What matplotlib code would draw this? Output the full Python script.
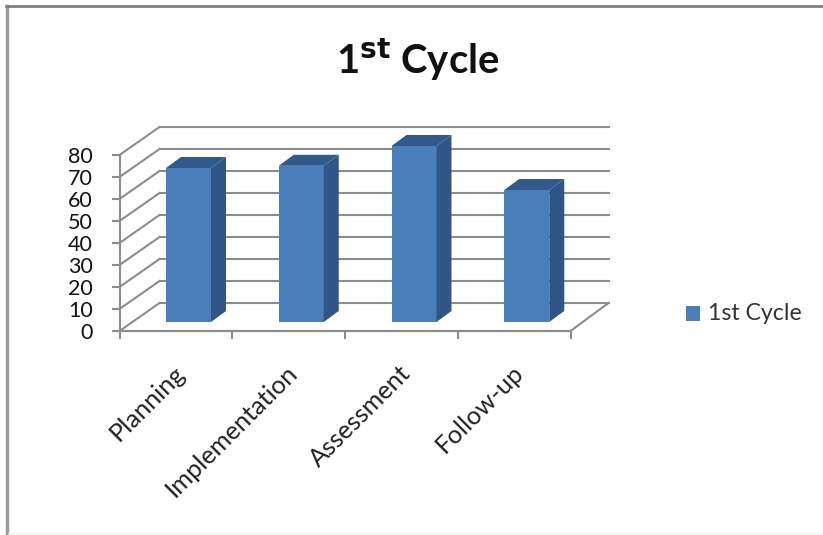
import matplotlib
matplotlib.use("Agg")
import matplotlib.pyplot as plt
from matplotlib.patches import Polygon, Rectangle
from matplotlib.lines import Line2D

categories = ["Planning", "Implementation", "Assessment", "Follow-up"]
values = [70, 71, 80, 60]
series_name = "1st Cycle"
yticks = [0, 10, 20, 30, 40, 50, 60, 70, 80]

W, H = 823, 535
plt.rcParams["font.family"] = ["Lato", "DejaVu Sans"]
fig = plt.figure(figsize=(W / 100, H / 100), dpi=100, facecolor="white")

# front plane of the 3D box in pixels
L, R, Y0, Y80 = 119.5, 570.5, 331, 155
ax = fig.add_axes([L / W, 1 - Y0 / H, (R - L) / W, (Y0 - Y80) / H])
ax.set_xlim(0, 4)
ax.set_ylim(0, 80)
ax.patch.set_visible(False)

px = 4 / (R - L)          # data x per pixel
py = 80 / (Y0 - Y80)      # data y per pixel
depth_x, depth_y = 40 * px, 28 * py
GRID = "#8c8c8c"

# walls and gridlines
for v in yticks:
    ax.plot([0, depth_x], [v, v + depth_y], color=GRID, lw=1.5, clip_on=False, zorder=1)
    ax.plot([depth_x, 4 + depth_x - 2 * px], [v + depth_y, v + depth_y], color=GRID, lw=1.5, clip_on=False, zorder=1)
ax.plot([0, 4], [0, 0], color=GRID, lw=1.5, clip_on=False, zorder=1)
ax.plot([4, 4 + depth_x - 2 * px], [0, depth_y], color=GRID, lw=1.5, clip_on=False, zorder=1)

# bars
FRONT, SIDE, TOP = "#4a7ebb", "#2f5686", "#31598c"
base = 9 * py
bar_w = 45 * px
bar_left = 46.5 * px
dx, dy = 15 * px, 11 * py
xs = [i + bar_left + bar_w / 2 for i in range(len(values))]
ax.bar(xs, values, width=bar_w, bottom=base, color=FRONT, zorder=3, clip_on=False, linewidth=0)
for x, v in zip(xs, values):
    x0, x1 = x - bar_w / 2, x + bar_w / 2
    t = base + v
    ax.add_patch(Polygon([(x1, base), (x1 + dx, base + dy), (x1 + dx, t + dy), (x1, t)],
                         facecolor=SIDE, edgecolor="none", zorder=3, clip_on=False))
    ax.add_patch(Polygon([(x0, t), (x0 + dx, t + dy), (x1 + dx, t + dy), (x1, t)],
                         facecolor=TOP, edgecolor="none", zorder=3, clip_on=False))

# axes
for s in ("top", "right"):
    ax.spines[s].set_visible(False)
for s in ("left", "bottom"):
    ax.spines[s].set_color(GRID)
    ax.spines[s].set_linewidth(1.5)
ax.set_yticks(yticks)
ax.set_xticks(range(len(categories) + 1))
ax.set_xticklabels([])
ax.tick_params(axis="both", color=GRID, width=1.5, length=6, direction="out")
ax.tick_params(axis="y", labelsize=15.5, pad=13, labelcolor="#111111")

# category labels, rotated with their ends under the group centres
for i, c in enumerate(categories):
    ax.annotate(c, xy=(i + 0.5, 0), xycoords="data", xytext=(-3, -30), textcoords="offset pixels",
                rotation=45, rotation_mode="anchor", ha="right", va="top",
                fontsize=18.3, color="#222222", annotation_clip=False)

# title
fig.text(418 / W, 1 - 60 / H, "1$^{\\mathbf{st}}$ Cycle", ha="center", va="center",
         fontsize=28.8, fontweight="bold", color="#111111",
         math_fontfamily="dejavusans")

# legend
fig.add_artist(Rectangle((686 / W, 1 - 321 / H), 14 / W, 15 / H, transform=fig.transFigure,
                         facecolor=FRONT, edgecolor="none"))
fig.text(708 / W, 1 - 313 / H, series_name, ha="left", va="center", fontsize=16.7, color="#333333")

# frame of the chart area
BORDER = "#9a9a9a"
fig.add_artist(Line2D([7 / W, 7 / W], [1 - 6 / H, 0], transform=fig.transFigure, color=BORDER, lw=2.5))
fig.add_artist(Line2D([6 / W, 1], [1 - 6 / H, 1 - 6 / H], transform=fig.transFigure, color="#808080", lw=2))
fig.add_artist(Line2D([8 / W, 1], [1 - 533 / H, 1 - 533 / H], transform=fig.transFigure, color="#f0f0f0", lw=1))

fig.savefig("out.png", dpi=100, facecolor="white")
